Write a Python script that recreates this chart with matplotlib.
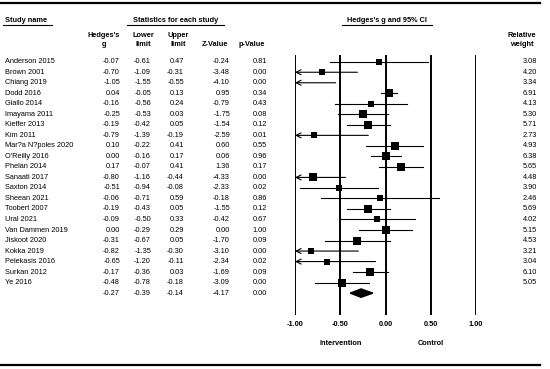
import matplotlib
matplotlib.use("Agg")
import matplotlib.pyplot as plt
from matplotlib.lines import Line2D
from matplotlib.patches import Polygon
from matplotlib.transforms import blended_transform_factory

plt.rcParams['font.family'] = ['Liberation Sans', 'DejaVu Sans']

studies = ["Anderson 2015", "Brown 2001", "Chiang 2019", "Dodd 2016", "Giallo 2014",
           "Imayama 2011", "Kieffer 2013", "Kim 2011", "Mar?a N?poles 2020", "O'Reilly 2016",
           "Phelan 2014", "Sanaati 2017", "Saxton 2014", "Sheean 2021", "Toobert 2007",
           "Ural 2021", "Van Dammen 2019", "Jiskoot 2020", "Kokka 2019", "Pelekasis 2016",
           "Surkan 2012", "Ye 2016"]
g = [-0.07, -0.70, -1.05, 0.04, -0.16, -0.25, -0.19, -0.79, 0.10, 0.00, 0.17, -0.80,
     -0.51, -0.06, -0.19, -0.09, 0.00, -0.31, -0.82, -0.65, -0.17, -0.48]
lower = [-0.61, -1.09, -1.55, -0.05, -0.56, -0.53, -0.42, -1.39, -0.22, -0.16, -0.07, -1.16,
         -0.94, -0.71, -0.43, -0.50, -0.29, -0.67, -1.35, -1.20, -0.36, -0.78]
upper = [0.47, -0.31, -0.55, 0.13, 0.24, 0.03, 0.05, -0.19, 0.41, 0.17, 0.41, -0.44,
         -0.08, 0.59, 0.05, 0.33, 0.29, 0.05, -0.30, -0.11, 0.03, -0.18]
zval = [-0.24, -3.48, -4.10, 0.95, -0.79, -1.75, -1.54, -2.59, 0.60, 0.06, 1.36, -4.33,
        -2.33, -0.18, -1.55, -0.42, 0.00, -1.70, -3.10, -2.34, -1.69, -3.09]
pval = [0.81, 0.00, 0.00, 0.34, 0.43, 0.08, 0.12, 0.01, 0.55, 0.96, 0.17, 0.00,
        0.02, 0.86, 0.12, 0.67, 1.00, 0.09, 0.00, 0.02, 0.09, 0.00]
weight = [3.08, 4.20, 3.34, 6.91, 4.13, 5.30, 5.71, 2.73, 4.93, 6.38, 5.65, 4.48,
          3.90, 2.46, 5.69, 4.02, 5.15, 4.53, 3.21, 3.04, 6.10, 5.05]
pooled = [-0.27, -0.39, -0.14, -4.17, 0.00]
ticks = [-1.0, -0.5, 0.0, 0.5, 1.0]

W, H = 550, 369
fig = plt.figure(figsize=(5.5, 3.69), dpi=100)
px = lambda x: x / W
py = lambda y: 1 - y / H

ax = fig.add_axes([px(295), py(315), px(476) - px(295), (315 - 55) / H])
ax.set_xlim(-1, 1)
ax.set_ylim(24.08, -0.64)
for s in ax.spines.values():
    s.set_visible(False)
ax.set_yticks([])
ax.set_xticks(ticks)
fs = 5.3
ax.set_xticklabels([f"{t:.2f}" for t in ticks], fontsize=fs, fontweight='bold')
ax.tick_params(axis='x', length=0, pad=4)
for t in ticks:
    ax.axvline(t, color='black', lw=1.4)

tr = blended_transform_factory(fig.transFigure, ax.transData)
n = len(studies)
for i in range(n):
    lo = max(lower[i], -1)
    if lower[i] < -1:
        ax.annotate('', xy=(-1, i), xytext=(upper[i], i),
                    arrowprops=dict(arrowstyle='->,head_length=0.35,head_width=0.18',
                                    lw=0.8, color='black', shrinkA=0, shrinkB=0))
    else:
        ax.plot([lo, upper[i]], [i, i], color='black', lw=0.8)
    if g[i] >= -1:
        ax.plot(g[i], i, marker='s', color='black', mew=0, ms=2.45 * weight[i] ** 0.5)
    ax.text(px(5), i, studies[i], transform=tr, fontsize=fs, va='center', ha='left')
    for x, v in zip([120, 151, 184, 230, 267], [g[i], lower[i], upper[i], zval[i], pval[i]]):
        ax.text(px(x), i, f"{v:.2f}", transform=tr, fontsize=fs, va='center', ha='right')
    ax.text(px(537), i, f"{weight[i]:.2f}", transform=tr, fontsize=fs, va='center', ha='right')

# pooled row
for x, v in zip([120, 151, 184, 230, 267], pooled):
    ax.text(px(x), n, f"{v:.2f}", transform=tr, fontsize=fs, va='center', ha='right')
ax.add_patch(Polygon([(pooled[1], n), (pooled[0], n - 0.4), (pooled[2], n), (pooled[0], n + 0.4)],
                     closed=True, color='black', clip_on=False))

ax.text(-0.5, 26.8, "Intervention", fontsize=fs, fontweight='bold', ha='center', va='center')
ax.text(0.5, 26.8, "Control", fontsize=fs, fontweight='bold', ha='center', va='center')

# headers
hd = dict(fontsize=fs, fontweight='bold', va='center', ha='center')
fig.text(px(5), py(20), "Study name", fontsize=fs, fontweight='bold', va='center', ha='left')
fig.text(px(176), py(20), "Statistics for each study", **hd)
fig.text(px(387), py(20), "Hedges's g and 95% CI", **hd)
for x, lab in zip([103.5, 143, 178, 215, 252, 522],
                  ["Hedges's\ng", "Lower\nlimit", "Upper\nlimit", "\nZ-Value", "\np-Value", "Relative\nweight"]):
    fig.text(px(x), py(40), lab, linespacing=1.3, **hd)

for x0, x1, y in [(3, 52, 25), (127, 224, 25), (342, 432, 25)]:
    fig.add_artist(Line2D([px(x0), px(x1)], [py(y), py(y)], color='black', lw=0.8))
for y in [3, 365]:
    fig.add_artist(Line2D([px(0), px(540)], [py(y), py(y)], color='black', lw=1.6))

fig.savefig("out.png", dpi=100)
